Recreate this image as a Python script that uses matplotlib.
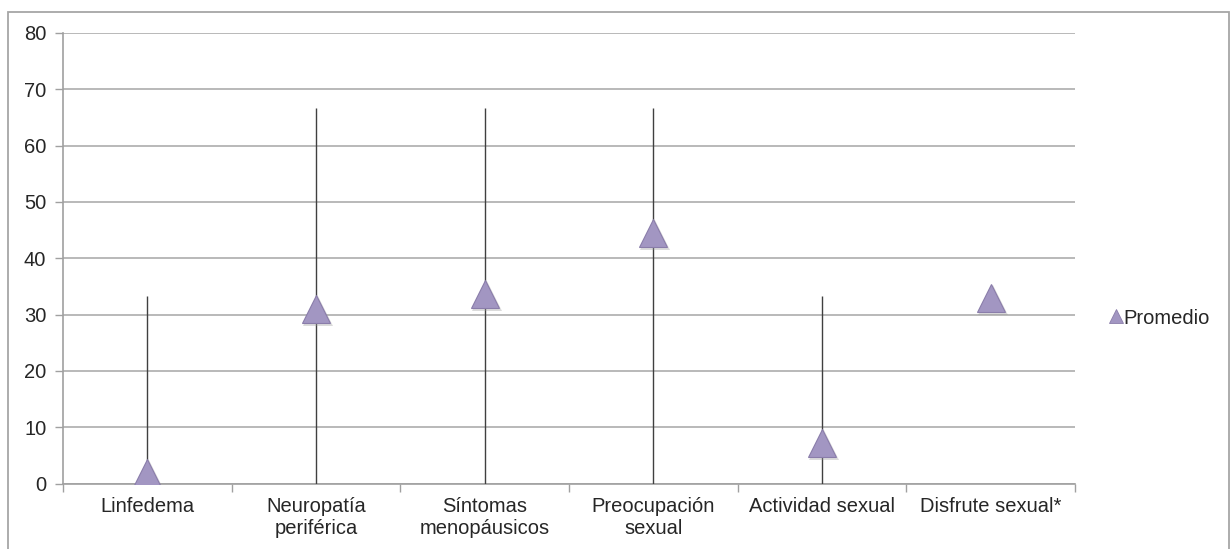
import numpy as np
import matplotlib.pyplot as plt
from matplotlib.lines import Line2D
from matplotlib.patches import Rectangle

plt.rcParams['font.family'] = ['Liberation Sans', 'DejaVu Sans']

# Dominios del cuestionario: promedio y rango (mínimo - máximo)
categorias = ['Linfedema', 'Neuropatía\nperiférica', 'Síntomas\nmenopáusicos',
              'Preocupación\nsexual', 'Actividad sexual', 'Disfrute sexual*']
promedio = [1.9, 31.0, 33.6, 44.5, 7.2, 33.0]
minimo = [0, 0, 0, 0, 0, np.nan]
maximo = [33.3, 66.7, 66.7, 66.7, 33.3, np.nan]
y_ticks = [0, 10, 20, 30, 40, 50, 60, 70, 80]

fig = plt.figure(figsize=(12.32, 5.49), dpi=100)
ax = fig.add_axes([0.0511, 0.1193, 0.8215, 0.8206])

# marco del gráfico
fig.patches.append(Rectangle((8 / 1232, -0.05), 1221 / 1232, 1.05 - 12 / 549,
                             transform=fig.transFigure, fill=False,
                             edgecolor='#a6a6a6', linewidth=1.3, zorder=0))

x = np.arange(len(categorias))

# líneas de máximo a mínimo
ax.vlines(x, minimo, maximo, color='#404040', linewidth=1.0, zorder=3)

# sombra suave bajo los triángulos
ax.plot(x + 0.012, np.array(promedio) - 0.35, linestyle='none', marker='^',
        markersize=21, color='#9a9a9a', alpha=0.35, markeredgewidth=0, zorder=4)
ax.plot(x, promedio, linestyle='none', marker='^', markersize=20,
        markerfacecolor='#a296c2', markeredgecolor='#8a7daa',
        markeredgewidth=0.8, zorder=5)

ax.set_xlim(-0.5, len(categorias) - 0.5)
ax.set_ylim(0, 80)
ax.set_yticks(y_ticks)
ax.set_yticklabels([str(v) for v in y_ticks])
ax.yaxis.grid(True, color='#b3b3b3', linewidth=1.3)
ax.set_axisbelow(True)

ax.set_xticks(x)
ax.set_xticklabels(categorias, fontsize=14.5, color='#262626', linespacing=1.2)
ax.set_xticks(np.arange(-0.5, len(categorias)), minor=True)
ax.tick_params(axis='x', which='major', length=0, pad=10)
ax.tick_params(axis='x', which='minor', length=6, color='#a0a0a0', width=1)
ax.tick_params(axis='y', length=6, color='#a0a0a0', width=1, labelsize=14.5,
               labelcolor='#262626', pad=6)

for side in ['top', 'right']:
    ax.spines[side].set_visible(False)
for side in ['left', 'bottom']:
    ax.spines[side].set_color('#a0a0a0')
    ax.spines[side].set_linewidth(1.2)

handle = Line2D([], [], linestyle='none', marker='^', markersize=10,
                markerfacecolor='#a296c2', markeredgecolor='#8a7daa',
                markeredgewidth=0.6)
fig.legend([handle], ['Promedio'], loc='center left',
           bbox_to_anchor=(1100 / 1232, 1 - 318 / 549), frameon=False,
           fontsize=14.5, handlelength=0.6, handletextpad=0.05,
           borderpad=0, labelcolor='#262626')

fig.savefig('out.png', dpi=100)
